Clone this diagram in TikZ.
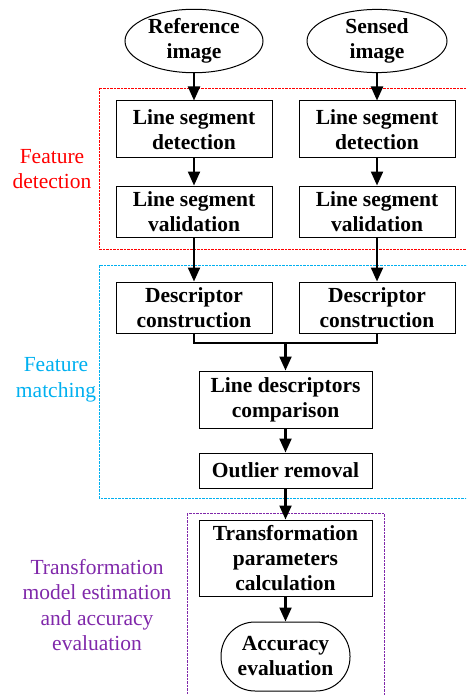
\documentclass[tikz,border=0pt]{standalone}
\usepackage{fontspec}
\setmainfont{Liberation Serif}
\usetikzlibrary{arrows.meta,shapes.geometric}
\definecolor{fdred}{RGB}{255,0,0}
\definecolor{fmblue}{RGB}{0,176,240}
\definecolor{tmpurple}{RGB}{128,40,170}
\tikzset{
  boxnode/.style={draw, line width=1pt, inner sep=0pt, align=center, font=\fontsize{21.5}{25}\selectfont\bfseries},
  ellnode/.style={boxnode, ellipse},
  flow/.style={line width=2.2pt, -{Triangle[length=14pt,width=12pt]}},
  joinline/.style={line width=2.2pt},
  grpbox/.style={line width=0.9pt, dash pattern=on 2.5pt off 1pt},
  grplabel/.style={align=center, font=\fontsize{21.5}{25.5}\selectfont}
}
\begin{document}
\begin{tikzpicture}[x=1pt,y=-1pt]
\useasboundingbox (0,0) rectangle (466,695);
\clip (0,0) rectangle (466,695);
% group boxes
\draw[grpbox, fdred] (99,88) rectangle (475,249);
\draw[grpbox, fmblue] (99,265) rectangle (475,498);
\draw[grpbox, tmpurple] (187,513) rectangle (384,705);
% group labels
\node[grplabel, text=fdred] (lblfd) at (52,169) {Feature\\detection};
\node[grplabel, text=fmblue] (lblfm) at (56,380) {Feature\\matching};
\node[grplabel, text=tmpurple] (lbltm) at (97,605) {Transformation\\model estimation\\and accuracy\\evaluation};
% nodes
\node[ellnode, minimum width=138pt, minimum height=62pt] (ri) at (194,41) {Reference\\image};
\node[ellnode, minimum width=140pt, minimum height=62pt] (si) at (377,41) {Sensed\\image};
\node[boxnode, minimum width=156pt, minimum height=57pt] (ld1) at (194,129.5) {Line segment\\detection};
\node[boxnode, minimum width=156pt, minimum height=57pt] (ld2) at (377,129.5) {Line segment\\detection};
\node[boxnode, minimum width=156pt, minimum height=51pt] (lv1) at (194,211.5) {Line segment\\validation};
\node[boxnode, minimum width=156pt, minimum height=51pt] (lv2) at (377,211.5) {Line segment\\validation};
\node[boxnode, minimum width=156pt, minimum height=51pt] (dc1) at (194,307.5) {Descriptor\\construction};
\node[boxnode, minimum width=156pt, minimum height=51pt] (dc2) at (377,307.5) {Descriptor\\construction};
\node[boxnode, minimum width=173pt, minimum height=57pt] (cmp) at (285.5,399.5) {Line descriptors\\comparison};
\node[boxnode, minimum width=173pt, minimum height=35pt] (out) at (285.5,470.5) {Outlier removal};
\node[boxnode, minimum width=173pt, minimum height=76pt] (tp) at (285.5,558) {Transformation\\parameters\\calculation};
\node[boxnode, minimum width=129pt, minimum height=69pt, rounded corners=34pt] (acc) at (285.5,656.5) {Accuracy\\evaluation};
% connectors
\draw[flow] (ri) -- (ld1);
\draw[flow] (si) -- (ld2);
\draw[flow] (ld1) -- (lv1);
\draw[flow] (ld2) -- (lv2);
\draw[flow] (lv1) -- (dc1);
\draw[flow] (lv2) -- (dc2);
\coordinate (j) at (285.5,343);
\draw[joinline] (dc1.south) -- (dc1.south |- j) -- (dc2.south |- j) -- (dc2.south);
\draw[flow] (j) -- (cmp.north);
\draw[flow] (cmp) -- (out);
\draw[flow] (out) -- (tp);
\draw[flow] (tp) -- (acc);
\end{tikzpicture}
\end{document}
